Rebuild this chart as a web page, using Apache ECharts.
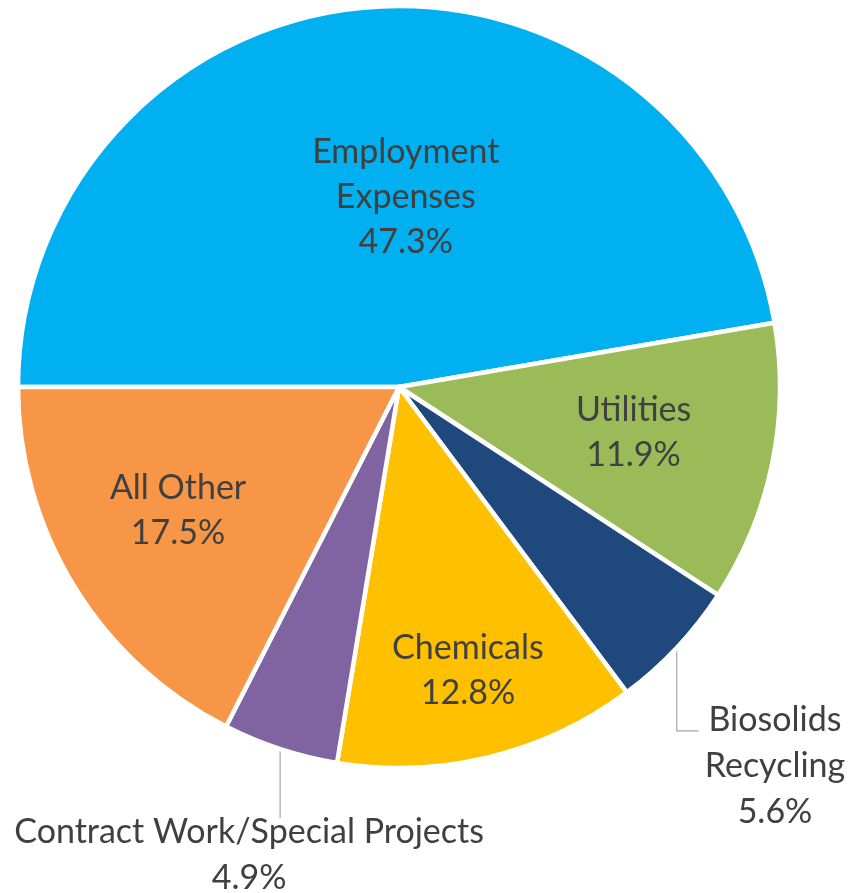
<!DOCTYPE html>
<html>
<head>
<meta charset="utf-8">
<title>Operating Expenses by Category</title>
<script src="https://cdn.jsdelivr.net/npm/echarts@6/dist/echarts.min.js"></script>
<style>
  html, body { margin: 0; padding: 0; background: #ffffff; }
  #chart { width: 848px; height: 893px; }
</style>
</head>
<body>
<div id="chart"></div>
<script>
// Expense categories, in clockwise order starting at 9 o'clock
const categories = [
  'Employment\nExpenses',
  'Utilities',
  'Biosolids\nRecycling',
  'Chemicals',
  'Contract Work/Special Projects',
  'All Other'
];
// Share of total expenses, percent
const shares = [47.3, 11.9, 5.6, 12.8, 4.9, 17.5];

// Slice colours
const sliceColors = ['#00B0F0', '#9BBB59', '#1F497D', '#FFC000', '#8064A2', '#F79646'];

// Geometry of the pie
const PIE_CENTER = [399, 387];
const PIE_RADIUS = 381;
const START_ANGLE = 180;

// Inside labels: [fraction of radius, angle shift in degrees from slice middle]
const insidePlacement = {
  0: [0.50, -6.9],
  1: [0.627, 0.8],
  3: [0.765, 0.0],
  5: [0.665, -2.2]
};
// Outside labels with an elbow leader line: drop below rim, horizontal run, text shift
const outsidePlacement = {
  2: { drop: 83, run: 22, side: 'right' },
  4: { drop: 69, run: 0, side: 'below', shiftX: -31 }
};

const total = shares.reduce((a, b) => a + b, 0);
function midAngleDeg(i) {
  let before = 0;
  for (let k = 0; k < i; k++) before += shares[k];
  const mid = before + shares[i] / 2;
  return START_ANGLE - mid / total * 360;
}

const chart = echarts.init(document.getElementById('chart'), null, { renderer: 'canvas' });

const textStyle = {
  color: '#404040',
  fontFamily: 'Lato, "Liberation Sans", sans-serif',
  fontSize: 34
};

const data = categories.map((name, i) => {
  const isOutside = outsidePlacement[i] !== undefined;
  return {
    name: name,
    value: shares[i],
    itemStyle: { color: sliceColors[i] },
    label: {
      position: isOutside ? 'outside' : 'inside',
      lineHeight: isOutside ? 46 : 45
    },
    labelLine: { show: isOutside }
  };
});

chart.setOption({
  backgroundColor: '#ffffff',
  animation: false,
  series: [{
    type: 'pie',
    center: PIE_CENTER,
    radius: PIE_RADIUS,
    startAngle: START_ANGLE,
    clockwise: true,
    avoidLabelOverlap: false,
    itemStyle: { borderColor: '#ffffff', borderWidth: 4.5 },
    label: Object.assign({
      show: true,
      formatter: '{b}\n{c}%',
      align: 'center'
    }, textStyle),
    labelLine: {
      show: false,
      length: 20,
      length2: 10,
      lineStyle: { color: '#A6A6A6', width: 1.2 }
    },
    emphasis: { disabled: true },
    data: data,
    labelLayout: function (p) {
      const i = p.dataIndex;
      const r = p.labelRect;
      if (insidePlacement[i]) {
        const pl = insidePlacement[i];
        const a = (midAngleDeg(i) + pl[1]) * Math.PI / 180;
        return {
          x: PIE_CENTER[0] + pl[0] * PIE_RADIUS * Math.cos(a),
          y: PIE_CENTER[1] - pl[0] * PIE_RADIUS * Math.sin(a),
          align: 'center',
          verticalAlign: 'middle'
        };
      }
      const op = outsidePlacement[i];
      const a = midAngleDeg(i) * Math.PI / 180;
      const rim = [
        PIE_CENTER[0] + PIE_RADIUS * Math.cos(a),
        PIE_CENTER[1] - PIE_RADIUS * Math.sin(a)
      ];
      const knee = [rim[0], rim[1] + op.drop];
      if (op.side === 'right') {
        const end = [knee[0] + op.run, knee[1]];
        return {
          x: end[0] + 6 + r.width / 2,
          y: end[1] - 34,
          align: 'center',
          verticalAlign: 'top',
          labelLinePoints: [rim, knee, end]
        };
      }
      return {
        x: knee[0] + op.shiftX,
        y: knee[1] - 9,
        align: 'center',
        verticalAlign: 'top',
        labelLinePoints: [rim, knee]
      };
    }
  }]
});
</script>
</body>
</html>
